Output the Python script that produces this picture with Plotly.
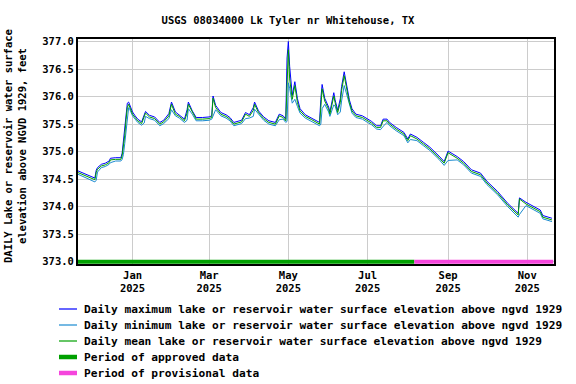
import plotly.graph_objects as go

# daily lake elevation (ft above NGVD 1929)
dates = [
    "2024-11-20", "2024-11-24", "2024-11-28", "2024-12-01", "2024-12-03", "2024-12-04", "2024-12-05", "2024-12-08", "2024-12-11", "2024-12-14",
    "2024-12-15", "2024-12-19", "2024-12-23", "2024-12-24", "2024-12-25", "2024-12-26", "2024-12-27", "2024-12-28", "2024-12-29", "2024-12-30",
    "2025-01-01", "2025-01-03", "2025-01-05", "2025-01-08", "2025-01-10", "2025-01-11", "2025-01-14", "2025-01-18", "2025-01-22", "2025-01-25",
    "2025-01-29", "2025-01-31", "2025-02-03", "2025-02-06", "2025-02-10", "2025-02-12", "2025-02-13", "2025-02-16", "2025-02-19", "2025-02-24",
    "2025-03-01", "2025-03-03", "2025-03-04", "2025-03-06", "2025-03-10", "2025-03-14", "2025-03-17", "2025-03-20", "2025-03-26", "2025-03-29",
    "2025-04-01", "2025-04-04", "2025-04-05", "2025-04-08", "2025-04-12", "2025-04-16", "2025-04-21", "2025-04-24", "2025-04-27", "2025-04-29",
    "2025-04-30", "2025-05-01", "2025-05-02", "2025-05-04", "2025-05-06", "2025-05-08", "2025-05-10", "2025-05-14", "2025-05-19", "2025-05-23",
    "2025-05-25", "2025-05-26", "2025-05-27", "2025-05-29", "2025-06-01", "2025-06-02", "2025-06-05", "2025-06-06", "2025-06-08", "2025-06-10",
    "2025-06-11", "2025-06-13", "2025-06-15", "2025-06-17", "2025-06-19", "2025-06-22", "2025-06-27", "2025-07-01", "2025-07-04", "2025-07-08",
    "2025-07-11", "2025-07-13", "2025-07-16", "2025-07-18", "2025-07-23", "2025-07-29", "2025-08-01", "2025-08-03", "2025-08-08", "2025-08-13",
    "2025-08-18", "2025-08-25", "2025-08-29", "2025-09-01", "2025-09-08", "2025-09-13", "2025-09-19", "2025-09-26", "2025-10-01", "2025-10-09",
    "2025-10-17", "2025-10-25", "2025-10-26", "2025-10-31", "2025-11-07", "2025-11-11", "2025-11-13", "2025-11-20",
]
elev_mean = [
    374.62, 374.58, 374.53, 374.51, 374.49, 374.62, 374.68, 374.74, 374.76, 374.80,
    374.85, 374.86, 374.86, 374.93, 375.10, 375.30, 375.58, 375.80, 375.86, 375.80,
    375.68, 375.62, 375.56, 375.51, 375.62, 375.70, 375.63, 375.60, 375.50, 375.54,
    375.65, 375.86, 375.68, 375.64, 375.56, 375.70, 375.86, 375.71, 375.59, 375.59,
    375.60, 375.62, 375.97, 375.80, 375.68, 375.64, 375.59, 375.50, 375.54, 375.68,
    375.64, 375.75, 375.86, 375.71, 375.60, 375.53, 375.50, 375.65, 375.62, 375.56,
    376.40, 376.85, 376.32, 375.95, 376.20, 375.89, 375.74, 375.64, 375.58, 375.52,
    375.50, 375.80, 376.14, 375.92, 375.77, 375.68, 376.01, 375.89, 375.71, 375.89,
    376.11, 376.38, 376.11, 375.89, 375.74, 375.65, 375.62, 375.56, 375.52, 375.44,
    375.44, 375.56, 375.56, 375.50, 375.41, 375.32, 375.20, 375.29, 375.23, 375.14,
    375.05, 374.89, 374.79, 374.98, 374.88, 374.79, 374.64, 374.58, 374.43, 374.25,
    374.03, 373.85, 374.14, 374.05, 373.97, 373.91, 373.81, 373.76,
]
elev_max = [
    374.65, 374.61, 374.56, 374.54, 374.52, 374.66, 374.71, 374.77, 374.79, 374.83,
    374.88, 374.89, 374.89, 374.97, 375.18, 375.42, 375.70, 375.88, 375.90, 375.84,
    375.72, 375.65, 375.59, 375.54, 375.66, 375.73, 375.66, 375.63, 375.53, 375.57,
    375.69, 375.90, 375.72, 375.67, 375.59, 375.76, 375.90, 375.74, 375.62, 375.62,
    375.63, 375.65, 376.01, 375.84, 375.71, 375.67, 375.62, 375.53, 375.57, 375.71,
    375.67, 375.80, 375.90, 375.74, 375.63, 375.56, 375.53, 375.68, 375.65, 375.59,
    376.70, 377.00, 376.55, 376.02, 376.27, 375.96, 375.78, 375.67, 375.61, 375.55,
    375.53, 375.95, 376.22, 375.97, 375.81, 375.72, 376.07, 375.94, 375.75, 375.96,
    376.18, 376.45, 376.17, 375.94, 375.78, 375.68, 375.65, 375.59, 375.55, 375.47,
    375.47, 375.59, 375.59, 375.53, 375.44, 375.35, 375.23, 375.32, 375.26, 375.17,
    375.08, 374.92, 374.82, 375.01, 374.91, 374.82, 374.67, 374.61, 374.46, 374.28,
    374.06, 373.88, 374.16, 374.08, 374.00, 373.94, 373.84, 373.79,
]
elev_min = [
    374.59, 374.55, 374.50, 374.48, 374.45, 374.48, 374.63, 374.71, 374.73, 374.77,
    374.80, 374.83, 374.83, 374.86, 374.95, 375.15, 375.40, 375.66, 375.80, 375.76,
    375.65, 375.59, 375.53, 375.48, 375.52, 375.64, 375.60, 375.57, 375.47, 375.51,
    375.60, 375.76, 375.65, 375.61, 375.53, 375.57, 375.78, 375.68, 375.56, 375.56,
    375.57, 375.59, 375.66, 375.76, 375.65, 375.61, 375.56, 375.47, 375.51, 375.60,
    375.61, 375.64, 375.77, 375.68, 375.57, 375.50, 375.47, 375.58, 375.59, 375.53,
    375.55, 376.25, 376.15, 375.88, 375.95, 375.82, 375.70, 375.61, 375.55, 375.49,
    375.47, 375.50, 375.78, 375.86, 375.72, 375.64, 375.85, 375.83, 375.67, 375.72,
    375.92, 376.20, 376.04, 375.84, 375.70, 375.62, 375.59, 375.53, 375.49, 375.41,
    375.40, 375.46, 375.53, 375.47, 375.38, 375.29, 375.16, 375.22, 375.20, 375.11,
    375.02, 374.86, 374.75, 374.84, 374.85, 374.76, 374.61, 374.55, 374.40, 374.22,
    374.00, 373.81, 373.86, 374.02, 373.94, 373.88, 373.78, 373.73,
]

approved_period = ["2024-11-20", "2025-08-06"]
provisional_period = ["2025-08-06", "2025-11-21"]

tick_dates = ["2025-01-01", "2025-03-01", "2025-05-01", "2025-07-01", "2025-09-01", "2025-11-01"]
tick_text = ["Jan<br>2025", "Mar<br>2025", "May<br>2025", "Jul<br>2025", "Sep<br>2025", "Nov<br>2025"]
y_ticks = [373.0, 373.5, 374.0, 374.5, 375.0, 375.5, 376.0, 376.5, 377.0]

MONO = "DejaVu Sans Mono"
LBL = "lake or reservoir water surface elevation above ngvd 1929"
W, H = 576, 384
L, R, T, B = 78, 22, 39, 120

series = [
    ("Daily maximum " + LBL, dates, elev_max, "#0000ff", 1),
    ("Daily minimum " + LBL, dates, elev_min, "#1a8ad0", 1),
    ("Daily mean " + LBL, dates, elev_mean, "#00a000", 1),
    ("Period of approved data", approved_period, [373.0, 373.0], "#00a000", 4),
    ("Period of provisional data", provisional_period, [373.0, 373.0], "#f545dc", 4),
]

fig = go.Figure()
for name, xs, ys, color, width in series:
    fig.add_trace(go.Scatter(x=xs, y=ys, mode="lines", name=name,
                             line=dict(color=color, width=width), showlegend=False))

# px -> paper coords for the hand-drawn legend (plotly's legend rows are too tall)
def px_x(p):
    return (p - L) / (W - L - R)

def px_y(p):
    return (H - B - p) / (H - T - B)

for i, (name, xs, ys, color, width) in enumerate(series):
    row = 309 + 16 * i
    fig.add_shape(type="line", xref="paper", yref="paper",
                  x0=px_x(59), x1=px_x(77), y0=px_y(row), y1=px_y(row),
                  line=dict(color=color, width=width + 0.5 if width > 1 else 1.2))
    fig.add_annotation(text=name, xref="paper", yref="paper", x=px_x(82), y=px_y(row),
                       xanchor="left", yanchor="middle", showarrow=False,
                       font=dict(family=MONO, size=11.2, weight="bold"))

fig.update_layout(
    width=W, height=H,
    paper_bgcolor="white", plot_bgcolor="white",
    margin=dict(l=L, r=R, t=T, b=B),
    font=dict(family=MONO, size=10.5, color="black", weight="bold"),
    title=dict(text="USGS 08034000 Lk Tyler nr Whitehouse, TX", x=0.5, xref="container",
               y=1 - 20.7 / H, yanchor="middle", font=dict(family=MONO, size=10.5, weight="bold")),
    xaxis=dict(range=["2024-11-20", "2025-11-21 14:00"], tickvals=tick_dates, ticktext=tick_text,
               showgrid=True, gridcolor="#cccccc", gridwidth=1, showline=True, linecolor="black",
               linewidth=2, mirror=True, ticks="", zeroline=False, tickfont=dict(size=10.5)),
    yaxis=dict(range=[372.96, 377.045], tickvals=y_ticks, tickformat=".1f",
               showgrid=True, gridcolor="#cccccc", gridwidth=1, showline=True, linecolor="black",
               linewidth=2, mirror=True, ticks="", zeroline=False, tickfont=dict(size=10.5)),
    showlegend=False,
)

fig.add_annotation(text="DAILY Lake or reservoir water surface<br>elevation above NGVD 1929, feet",
                   textangle=-90, xref="paper", yref="paper", x=px_x(15), y=px_y(146),
                   xanchor="center", yanchor="middle", showarrow=False,
                   font=dict(family=MONO, size=10.5, weight="bold"))

# the page's default 8px body margin would push the figure off its 576x384 window
fig.write_html("out.html", config={"displayModeBar": False},
               post_script="document.body.style.margin='0';")
